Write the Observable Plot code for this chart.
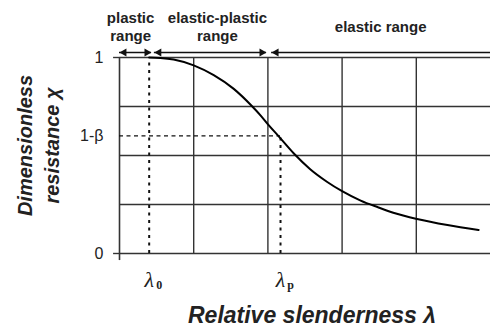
<!DOCTYPE html>
<html><head><meta charset="utf-8">
<script src="https://cdn.jsdelivr.net/npm/d3@7"></script>
<script src="https://cdn.jsdelivr.net/npm/@observablehq/plot@0.6"></script>
<style>body{margin:0;background:#fff}</style>
</head><body><div id="chart"></div>
<script>
// Curve: dimensionless resistance chi vs relative slenderness lambda
const curveX = [0.40, 0.55, 0.73, 1.00, 1.27, 1.54, 1.79, 1.90, 2.01, 2.14, 2.35, 2.57, 2.80, 3.00, 3.25, 3.49, 3.69, 4.01, 4.42, 4.84];
const curveY = [1.00, 0.998, 0.99, 0.96, 0.91, 0.84, 0.75, 0.705, 0.655, 0.60, 0.51, 0.43, 0.365, 0.318, 0.27, 0.235, 0.208, 0.176, 0.145, 0.12];
const gridX = [1, 2, 3, 4];
const gridY = [0, 0.25, 0.5, 0.75, 1];
const lambda0 = 0.4, lambdaP = 2.17, oneMinusBeta = 0.6;
const yTickValues = [0, oneMinusBeta, 1];
const yTickLabels = ["0", "1-β", "1"];
const xTickValues = [lambda0, lambdaP];
const xTickMain = ["λ", "λ"];
const xTickSub = ["0", "p"];
const rangeNames = ["plastic\nrange", "elastic-plastic\nrange", "elastic range"];
const rangeLabelX = [0.15, 1.32, 3.52];
const rangeStart = [0, 0.47, 2.05];
const rangeEnd = [0.43, 1.98, 5.0];
const rangeHeadEnd = [true, true, false];

const curve = curveX.map((x, i) => ({x, y: curveY[i]}));
const yTicks = yTickValues.map((v, i) => ({v, label: yTickLabels[i]}));
const xTicks = xTickValues.map((v, i) => ({v, main: xTickMain[i], sub: xTickSub[i]}));
const ranges = rangeNames.map((name, i) => ({name, lx: rangeLabelX[i], x1: rangeStart[i], x2: rangeEnd[i], head: rangeHeadEnd[i]}));
const headsL = ranges.map(r => ({x: r.x1}));
const headsR = ranges.filter(r => r.head).map(r => ({x: r.x2}));

const G = "#333";
const chart = Plot.plot({
  width: 490, height: 327,
  marginLeft: 119, marginRight: 0, marginTop: 57, marginBottom: 74,
  x: {domain: [0, 5], axis: null},
  y: {domain: [0, 1], axis: null},
  style: {fontFamily: "'Liberation Sans', Arial, sans-serif", background: "white", overflow: "visible"},
  marks: [
    Plot.ruleY(gridY, {x1: 0, x2: 5, stroke: G, strokeWidth: 1.4}),
    Plot.ruleY([0, 1], {x1: -0.08, x2: 0, stroke: G, strokeWidth: 1.4}),
    Plot.ruleX(gridX, {y1: 0, y2: 1, stroke: G, strokeWidth: 1.4}),
    Plot.ruleX([0], {y1: -0.036, y2: 1, stroke: G, strokeWidth: 1.6}),
    Plot.ruleY([oneMinusBeta], {x1: 0, x2: lambdaP, stroke: "#111", strokeWidth: 1.4, strokeDasharray: "4,3.5"}),
    Plot.ruleX([lambda0], {y1: 0, y2: 1, stroke: "#111", strokeWidth: 2, strokeDasharray: "3,4.5"}),
    Plot.ruleX([lambdaP], {y1: 0, y2: oneMinusBeta, stroke: "#111", strokeWidth: 2, strokeDasharray: "3,4.5"}),
    Plot.line(curve, {x: "x", y: "y", curve: "monotone-x", stroke: "#000", strokeWidth: 2}),
    Plot.text(yTicks, {x: 0, y: "v", text: "label", textAnchor: "end", dx: -16, fontSize: 16, fill: "#222"}),
    Plot.text(xTicks, {x: "v", text: "main", frameAnchor: "bottom", lineAnchor: "middle", dy: 26, fontFamily: "'Liberation Serif', serif", fontStyle: "italic", fontSize: 22, fill: "#222"}),
    Plot.text(xTicks, {x: "v", text: "sub", frameAnchor: "bottom", lineAnchor: "middle", dy: 32, dx: 10, fontFamily: "'Liberation Serif', serif", fontStyle: d => d.sub === "p" ? "italic" : "normal", fontWeight: "bold", fontSize: 12, fill: "#222"}),
    Plot.ruleY(ranges, {x1: "x1", x2: "x2", y: () => 1, dy: -5, stroke: "#111", strokeWidth: 1.5}),
    Plot.dot(headsL, {x: "x", y: () => 1, dy: -5, dx: 4.6, symbol: "triangle", r: 3, rotate: -90, fill: "#111", stroke: "none"}),
    Plot.dot(headsR, {x: "x", y: () => 1, dy: -5, dx: -4.6, symbol: "triangle", r: 3, rotate: 90, fill: "#111", stroke: "none"}),
    Plot.text(ranges, {x: "lx", text: "name", frameAnchor: "top", lineAnchor: "middle", textAnchor: "middle", dy: -31, fontSize: 15, fontWeight: "bold", lineHeight: 1.2, fill: "#222"}),
    Plot.text(["Dimensionless\nresistance χ"], {text: d => d, frameAnchor: "left", textAnchor: "middle", lineAnchor: "middle", rotate: -90, dx: -83, dy: -10, fontSize: 20, fontWeight: "bold", fontStyle: "italic", lineHeight: 1.35, fill: "#222"}),
    Plot.text(["Relative slenderness λ"], {text: d => d, frameAnchor: "bottom", textAnchor: "middle", lineAnchor: "middle", dy: 62, dx: 7, fontSize: 23, fontWeight: "bold", fontStyle: "italic", fill: "#222"})
  ]
});
document.getElementById("chart").append(chart);
</script>
</body></html>
